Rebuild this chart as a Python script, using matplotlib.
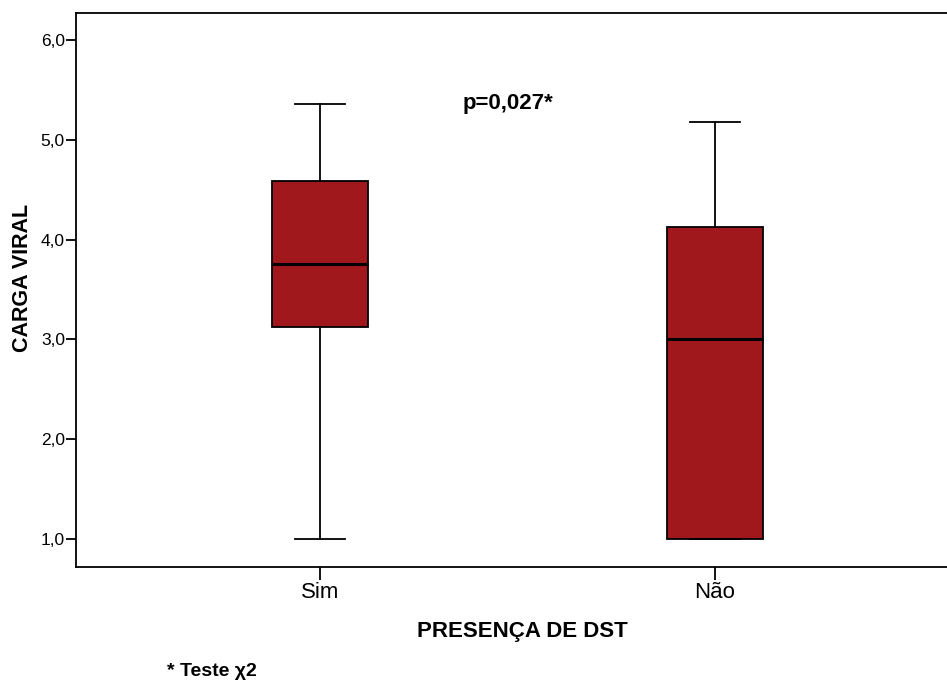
import matplotlib
matplotlib.use("Agg")
import matplotlib.pyplot as plt

plt.rcParams['font.family'] = ['Liberation Sans', 'DejaVu Sans']

# Grupos e estatísticas do boxplot
groups = ["Sim", "Não"]
whislo = [1.0, 1.0]
q1 = [3.12, 1.0]
med = [3.76, 3.0]
q3 = [4.59, 4.13]
whishi = [5.36, 5.18]

stats = []
for i, g in enumerate(groups):
    stats.append({
        "label": g, "whislo": whislo[i], "q1": q1[i], "med": med[i],
        "q3": q3[i], "whishi": whishi[i], "fliers": []
    })

fig = plt.figure(figsize=(9.47, 6.81), dpi=100)
# eixo se estende além da borda direita (sem spine direita visível)
ax = fig.add_axes([76 / 947, 1 - 567 / 681, (959 - 76) / 947, (567 - 13) / 681])

ax.bxp(stats, positions=[1, 2], widths=0.243, patch_artist=True, showfliers=False,
       boxprops=dict(facecolor="#A0181C", edgecolor="black", linewidth=1.3),
       medianprops=dict(color="black", linewidth=2.2),
       whiskerprops=dict(color="black", linewidth=1.3),
       capprops=dict(color="black", linewidth=1.3),
       capwidths=0.127)

ax.set_xlim(0.382, 2.618)
ax.set_ylim(0.72, 6.27)
ax.set_yticks([1, 2, 3, 4, 5, 6])
ax.set_yticklabels(["1,0", "2,0", "3,0", "4,0", "5,0", "6,0"])
ax.set_xticks([1, 2])
ax.set_xticklabels(groups)

ax.tick_params(axis="y", labelsize=12.5, length=7, width=1.3, pad=1)
ax.tick_params(axis="x", labelsize=16, length=9.5, width=1.3, pad=1)
for s in ax.spines.values():
    s.set_linewidth(1.3)

ax.set_ylabel("CARGA VIRAL", fontsize=15.5, fontweight="bold")
ax.yaxis.set_label_coords(-0.049, 0.522)
fig.text(522 / 947, 1 - 631 / 681, "PRESENÇA DE DST", fontsize=16, fontweight="bold",
         ha="center", va="center")
fig.text(508 / 947, 1 - 104 / 681, "p=0,027*", fontsize=16, fontweight="bold",
         ha="center", va="center")
fig.text(167 / 947, 1 - 671 / 681, "* Teste χ2", fontsize=14, fontweight="bold",
         ha="left", va="center")

fig.savefig("out.png", dpi=100)
